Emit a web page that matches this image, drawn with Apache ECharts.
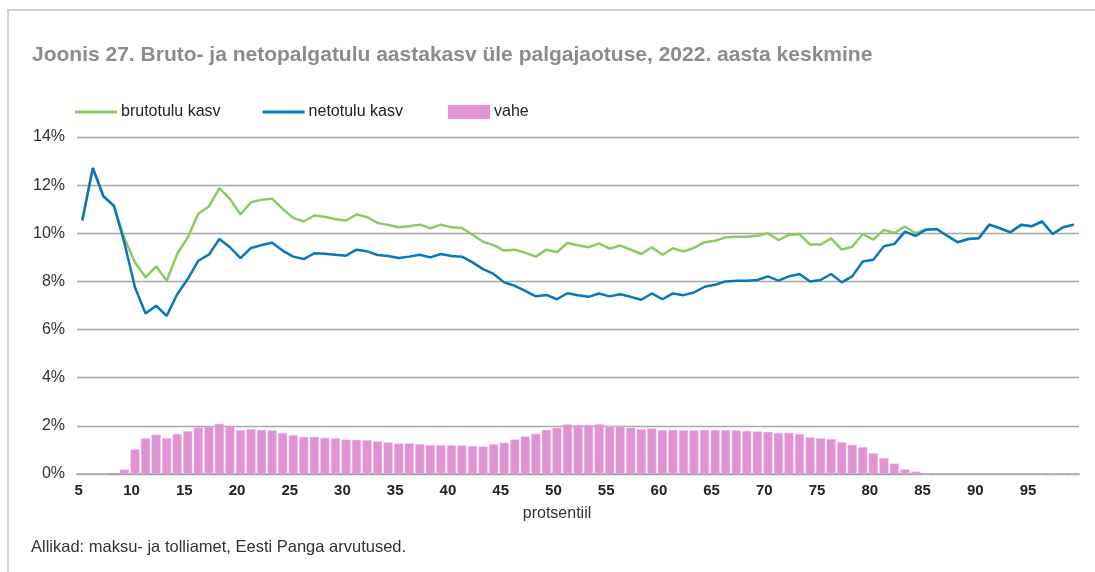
<!DOCTYPE html>
<html>
<head>
<meta charset="utf-8">
<script src="https://cdn.jsdelivr.net/npm/echarts@6/dist/echarts.min.js"></script>
<style>
  html, body { margin: 0; padding: 0; background: #fff; }
  #chart { width: 1095px; height: 572px; }
</style>
</head>
<body>
<div id="chart"></div>
<script>
// protsentiilid 5..99
var percentiles = [];
for (var p = 5; p <= 99; p++) { percentiles.push(String(p)); }

var bruto = [
  10.53, 12.71, 11.54, 11.12, 9.78, 8.79, 8.17, 8.63, 8.03, 9.14,
  9.83, 10.81, 11.11, 11.88, 11.43, 10.78, 11.29, 11.39, 11.44, 11.01,
  10.64, 10.49, 10.74, 10.69, 10.58, 10.53, 10.78, 10.67, 10.43, 10.35,
  10.25, 10.29, 10.36, 10.21, 10.36, 10.25, 10.22, 9.94, 9.65, 9.51,
  9.28, 9.32, 9.19, 9.03, 9.32, 9.21, 9.60, 9.50, 9.42, 9.58,
  9.36, 9.49, 9.32, 9.14, 9.42, 9.11, 9.38, 9.25, 9.39, 9.63,
  9.69, 9.83, 9.86, 9.86, 9.90, 10.00, 9.72, 9.93, 9.97, 9.53,
  9.53, 9.79, 9.32, 9.44, 9.97, 9.74, 10.14, 10.01, 10.28, 10.01,
  10.15, 10.18, 9.90, 9.63, 9.76, 9.79, 10.36, 10.21, 10.04, 10.35,
  10.29, 10.49, 9.97, 10.25, 10.36
];
var neto = [
  10.53, 12.71, 11.54, 11.15, 9.60, 7.75, 6.67, 6.99, 6.57, 7.47,
  8.10, 8.86, 9.11, 9.76, 9.42, 8.97, 9.39, 9.51, 9.61, 9.28,
  9.03, 8.93, 9.17, 9.15, 9.11, 9.07, 9.32, 9.25, 9.10, 9.06,
  8.97, 9.03, 9.11, 9.00, 9.14, 9.06, 9.03, 8.79, 8.51, 8.31,
  7.96, 7.82, 7.61, 7.38, 7.44, 7.26, 7.51, 7.43, 7.36, 7.50,
  7.38, 7.47, 7.36, 7.24, 7.50, 7.26, 7.50, 7.43, 7.54, 7.78,
  7.86, 8.00, 8.03, 8.03, 8.06, 8.21, 8.03, 8.21, 8.31, 8.00,
  8.06, 8.31, 7.96, 8.21, 8.83, 8.90, 9.46, 9.56, 10.07, 9.89,
  10.15, 10.18, 9.90, 9.63, 9.76, 9.79, 10.36, 10.21, 10.04, 10.35,
  10.29, 10.49, 9.97, 10.25, 10.36
];
var vahe = [
  0, 0, 0, -0.03, 0.18, 1.02, 1.48, 1.63, 1.48, 1.66,
  1.78, 1.93, 1.97, 2.08, 1.97, 1.82, 1.86, 1.83, 1.81, 1.70,
  1.61, 1.54, 1.54, 1.50, 1.48, 1.43, 1.42, 1.40, 1.35, 1.31,
  1.27, 1.27, 1.24, 1.20, 1.19, 1.19, 1.19, 1.16, 1.14, 1.23,
  1.30, 1.43, 1.56, 1.67, 1.83, 1.92, 2.06, 2.04, 2.04, 2.07,
  1.99, 1.99, 1.92, 1.86, 1.89, 1.82, 1.83, 1.81, 1.81, 1.83,
  1.82, 1.82, 1.81, 1.79, 1.77, 1.75, 1.70, 1.71, 1.66, 1.52,
  1.48, 1.45, 1.32, 1.21, 1.12, 0.86, 0.66, 0.43, 0.19, 0.10,
  0, 0, 0, 0, 0, 0, 0, 0, 0, 0,
  0, 0, 0, 0, 0
];

var titleText = 'Joonis 27. Bruto- ja netopalgatulu aastakasv üle palgajaotuse, 2022. aasta keskmine';
var sourceText = 'Allikad: maksu- ja tolliamet, Eesti Panga arvutused.';

var fontFam = '"Liberation Sans", Arial, sans-serif';
var green = '#8dca63';
var blue = '#0a78b8';
var pink = '#e092d3';

var myChart = echarts.init(document.getElementById('chart'));
var option = {
  animation: false,
  textStyle: { fontFamily: fontFam },
  title: {
    text: titleText,
    left: 27,
    top: 40,
    textStyle: { color: '#8c8c8c', fontSize: 21, fontWeight: 'bold', fontFamily: fontFam }
  },
  graphic: [
    { type: 'line', shape: { x1: 7, y1: 10, x2: 1095, y2: 10 }, style: { stroke: '#c4c4c4', lineWidth: 1.5 } },
    { type: 'line', shape: { x1: 8, y1: 10, x2: 8, y2: 572 }, style: { stroke: '#c4c4c4', lineWidth: 1.5 } },
    { type: 'text', left: 31, top: 539, style: { text: sourceText, fill: '#333', font: '16.5px ' + fontFam } }
  ],
  legend: [
    {
      // joonte legend
      left: 70,
      top: 99,
      itemWidth: 42,
      itemHeight: 3,
      itemGap: 42,
      icon: 'rect',
      textStyle: { color: '#222', fontSize: 16, padding: [0, 0, 0, -1] },
      data: ['brutotulu kasv', 'netotulu kasv']
    },
    {
      left: 443,
      top: 99,
      itemWidth: 42,
      itemHeight: 14,
      icon: 'rect',
      itemStyle: { borderWidth: 0 },
      textStyle: { color: '#222', fontSize: 16, padding: [0, 0, 0, -1] },
      data: ['vahe']
    }
  ],
  grid: { left: 77, right: 16, top: 137, bottom: 98 },
  xAxis: {
    type: 'category',
    data: percentiles,
    boundaryGap: true,
    name: 'protsentiil',
    nameLocation: 'middle',
    nameGap: 32,
    nameTextStyle: { color: '#333', fontSize: 16, padding: [0, 42, 0, 0] },
    axisLine: { lineStyle: { color: '#9a9a9a', width: 1.5 } },
    axisTick: { interval: 4, inside: true, length: 7, lineStyle: { color: '#9a9a9a', width: 1.5 } },
    axisLabel: {
      interval: 4,
      color: '#222',
      fontSize: 15,
      fontWeight: 'bold',
      margin: 9,
      padding: [0, 7, 0, 0]
    }
  },
  yAxis: {
    type: 'value',
    min: 0,
    max: 14,
    interval: 2,
    axisLine: { show: false },
    axisTick: { show: false },
    axisLabel: { formatter: '{value}%', color: '#333', fontSize: 16, margin: 12 },
    splitLine: { lineStyle: { color: '#a8a8a8', width: 1.3 } }
  },
  series: [
    {
      name: 'brutotulu kasv',
      type: 'line',
      data: bruto,
      symbol: 'none',
      z: 3,
      lineStyle: { color: green, width: 2.5 },
      itemStyle: { color: green }
    },
    {
      name: 'netotulu kasv',
      type: 'line',
      data: neto,
      symbol: 'none',
      z: 4,
      lineStyle: { color: blue, width: 2.5 },
      itemStyle: { color: blue }
    },
    {
      name: 'vahe',
      type: 'bar',
      data: vahe,
      z: 2,
      barCategoryGap: '14%',
      itemStyle: { color: pink, borderColor: '#eab4e0', borderWidth: 0.5 }
    }
  ]
};
myChart.setOption(option);
</script>
</body>
</html>
